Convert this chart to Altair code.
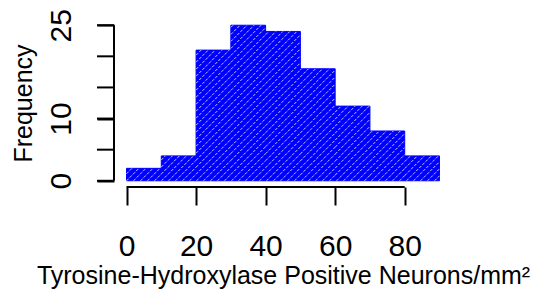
import altair as alt
import pandas as pd
import numpy as np

# ---- data ----
bin_starts = [0, 10, 20, 30, 40, 50, 60, 70, 80]
bin_width = 10
counts = [2, 4, 21, 25, 24, 18, 12, 8, 4]
x_ticks = [0, 20, 40, 60, 80]
y_ticks = [0, 5, 10, 15, 20, 25]
y_labelled = [0, 10, 25]

# ---- layout ----
W, H = 338, 168
x_dom = [-3.6, 93.6]
y_dom = [-1, 26]
kx = W / (x_dom[1] - x_dom[0])
ky = H / (y_dom[1] - y_dom[0])
FONT = "Liberation Sans"

bars = pd.DataFrame({
    "x0": bin_starts,
    "x1": [b + bin_width for b in bin_starts],
    "n": counts,
})

# hatch lines (45 degrees in pixel space) clipped to each bar
spacing = 7.0
rows = []
for a, b, h in zip(bars.x0, bars.x1, bars.n):
    X0, X1, Ht = a * kx, b * kx, h * ky
    c = np.floor((X0 - Ht) / spacing) * spacing
    while c < X1:
        xs_ = max(X0, c)
        xe_ = min(X1, c + Ht)
        if xe_ - xs_ > 0.5:
            rows.append({"hx": xs_ / kx, "hy": (xs_ - c) / ky,
                         "hx2": xe_ / kx, "hy2": (xe_ - c) / ky})
        c += spacing
hatch = pd.DataFrame(rows)

xs = alt.Scale(domain=x_dom, nice=False, zero=False)
ys = alt.Scale(domain=y_dom, nice=False, zero=False)

base_bars = alt.Chart(bars).mark_rect(
    fill="#0000ff", stroke="#0000ff", strokeWidth=1
).encode(
    x=alt.X("x0:Q", scale=xs, axis=alt.Axis(
        values=x_ticks, domain=False, grid=False, tickSize=18, tickWidth=2,
        tickColor="black", labelFontSize=30, labelFont=FONT, labelColor="black",
        labelBaseline="alphabetic", labelPadding=50, labelAlign="center",
        title="Tyrosine-Hydroxylase Positive Neurons/mm²",
        titleFont=FONT, titleFontSize=25, titleFontWeight="normal",
        titleColor="black", titleX=W / 2, titleY=96, titleAlign="center",
        titleBaseline="alphabetic", labelFlush=False)),
    x2="x1:Q",
    y=alt.Y("n:Q", scale=ys, axis=alt.Axis(
        values=y_labelled, domain=False, grid=False, tickSize=17, tickWidth=2,
        tickColor="black", labelFontSize=30, labelFont=FONT, labelColor="black",
        labelAngle=270, labelAlign="center", labelBaseline="alphabetic",
        labelPadding=27, labelFlush=False, labelOverlap=False,
        title="Frequency", titleFont=FONT, titleFontSize=25,
        titleFontWeight="normal", titleColor="black", titleAngle=270,
        titleX=-82.6, titleY=H / 2, titleAlign="center",
        titleBaseline="alphabetic")),
    y2=alt.Y2(datum=0),
)

hatch_layer = alt.Chart(hatch).mark_rule(
    color="#c4c8ff", strokeWidth=1, strokeDash=[3, 1.5]
).encode(
    x=alt.X("hx:Q", scale=xs),
    y=alt.Y("hy:Q", scale=ys),
    x2="hx2:Q",
    y2="hy2:Q",
)

# full set of y ticks (R shows ticks at every 5, labels only where they fit)
y_tick_df = pd.DataFrame({"t": y_ticks})
y_tick_layer = alt.Chart(y_tick_df).mark_rule(color="black", strokeWidth=2).encode(
    y=alt.Y("t:Q", scale=ys),
    x=alt.value(-17), x2=alt.value(0),
)

axis_df_x = pd.DataFrame({"a": [x_ticks[0]], "b": [x_ticks[-1]], "y": [y_dom[0]]})
x_line = alt.Chart(axis_df_x).mark_rule(color="black", strokeWidth=2).encode(
    x=alt.X("a:Q", scale=xs), x2="b:Q", y=alt.Y("y:Q", scale=ys))

axis_df_y = pd.DataFrame({"a": [y_ticks[0]], "b": [y_ticks[-1]], "x": [x_dom[0]]})
y_line = alt.Chart(axis_df_y).mark_rule(color="black", strokeWidth=2).encode(
    y=alt.Y("a:Q", scale=ys), y2="b:Q", x=alt.X("x:Q", scale=xs))

chart = alt.layer(base_bars, hatch_layer, y_tick_layer, x_line, y_line).properties(
    width=W, height=H,
    autosize=alt.AutoSizeParams(type="none"),
    padding={"left": 106, "top": 11, "right": 83, "bottom": 103},
    background="white",
).configure_view(stroke=None)

chart.save("out.html", embed_options={"renderer": "svg", "actions": False})
